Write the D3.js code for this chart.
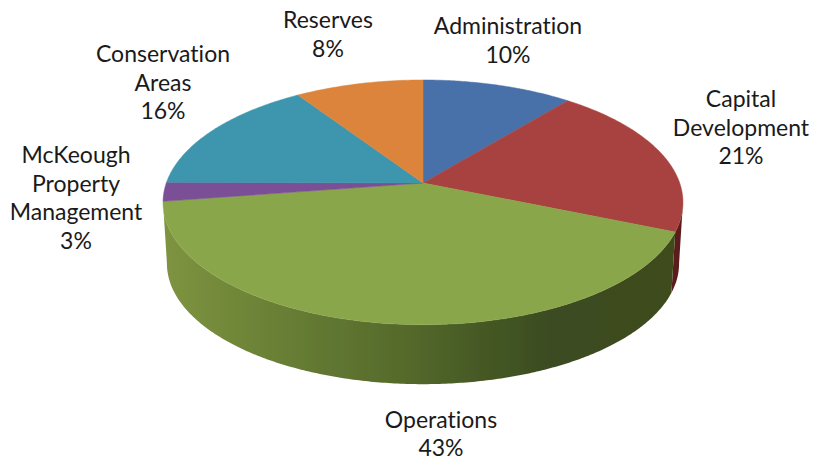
<!DOCTYPE html>
<html>
<head>
<meta charset="utf-8">
<script src="https://cdn.jsdelivr.net/npm/d3@7"></script>
<style>
  html, body { margin: 0; padding: 0; background: #fff; }
  svg { display: block; }
  text { font-family: Lato, sans-serif; font-size: 23px; fill: #1a1a1a; font-variant-ligatures: none; }
</style>
</head>
<body>
<svg id="canvas" width="813" height="461"></svg>
<script>
// ---------------- data ----------------
let categories = ['Administration', 'Capital Development', 'Operations', 'McKeough Property Management', 'Conservation Areas', 'Reserves'];
// printed labels
let percentLabels = ['10%', '21%', '43%', '3%', '16%', '8%'];
let sliceShares = [10.9, 20.4, 41.3, 2.5, 15.6, 9.3];
let labelLines = [
  ['Administration'],
  ['Capital', 'Development'],
  ['Operations'],
  ['McKeough', 'Property', 'Management'],
  ['Conservation', 'Areas'],
  ['Reserves']
];

// ---------------- layout and colours ----------------
let topColors = ['#4a71a9', '#a8433f', '#8aa64b', '#7a4f96', '#3c96ae', '#dc843b'];
let sideColors = ['#2f4a70', '#5c1f1c', 'url(#opsSide)', '#503264', '#27647a', '#94581f'];
// x centre and first baseline of every label block
let labelX = [508, 741, 441, 76, 163, 328];
let labelY = [34, 107, 427.5, 163, 62, 28];
let lineHeight = 28.5;

// perspective of the disc
let cx = 423, cy = 183;
let radiusX = 256.7, radiusY = 119.3, tilt = 0.158;
let depth = 61.6, bottomScale = 0.985;
// the wall is only seen between the two side extremes of the ellipse
let wallStart = 99 * Math.PI / 180, wallEnd = 261 * Math.PI / 180;

let canvas = d3.select('#canvas');

let defs = canvas.append('defs');
defs.append('filter').attr('id', 'soft')
  .append('feGaussianBlur').attr('stdDeviation', 0.6);
let grad = defs.append('linearGradient').attr('id', 'opsSide')
  .attr('gradientUnits', 'userSpaceOnUse')
  .attr('x1', 163).attr('x2', 683).attr('y1', 0).attr('y2', 0);
[[0, '#7f9440'], [0.12, '#72893a'], [0.3, '#627832'], [0.47, '#55692b'], [0.6, '#465a25'], [0.75, '#3c4b20'], [1, '#3f4c1f']]
  .forEach(s => grad.append('stop').attr('offset', s[0]).attr('stop-color', s[1]));

// angle is clockwise from the top of the pie
let project = (angle, radius, scale, drop) => {
  let u = Math.sin(angle) * radius, v = Math.cos(angle) * radius;
  let w = 1 + tilt * v;
  return [cx + scale * radiusX * u / w, cy + drop - scale * radiusY * v / w];
};

let steps = (a, b) => d3.range(a, b, 0.01).concat([b]);
let line = d3.line();

let arcs = d3.pie().sort(null).value(d => d)(sliceShares);

let pieGroup = canvas.append('g').attr('filter', 'url(#soft)');

// ---------------- walls ----------------
pieGroup.selectAll('path.wall')
  .data(arcs.filter(d => d.endAngle > wallStart && d.startAngle < wallEnd))
  .enter()
  .append('path')
  .attr('class', 'wall')
  .attr('fill', d => sideColors[d.index])
  .attr('d', d => {
    let angles = steps(Math.max(d.startAngle, wallStart), Math.min(d.endAngle, wallEnd));
    let upper = angles.map(a => project(a, 1, 1, 0));
    let lower = angles.slice().reverse().map(a => project(a, 1, bottomScale, depth));
    return line(upper.concat(lower)) + 'Z';
  });

// ---------------- top faces ----------------
pieGroup.selectAll('path.face')
  .data(arcs)
  .enter()
  .append('path')
  .attr('class', 'face')
  .attr('fill', d => topColors[d.index])
  .attr('stroke', d => topColors[d.index])
  .attr('stroke-width', 0.5)
  .attr('d', d => {
    let rim = steps(d.startAngle, d.endAngle).map(a => project(a, 1, 1, 0));
    return line([project(0, 0, 1, 0)].concat(rim)) + 'Z';
  });

// ---------------- labels ----------------
let labels = canvas.selectAll('text')
  .data(categories)
  .enter()
  .append('text')
  .attr('text-anchor', 'middle');

labels.each(function (name, i) {
  let lines = labelLines[i].concat([percentLabels[i]]);
  d3.select(this).selectAll('tspan')
    .data(lines)
    .enter()
    .append('tspan')
    .attr('x', labelX[i])
    .attr('y', (d, j) => labelY[i] + j * lineHeight)
    .text(d => d);
});
</script>
</body>
</html>
